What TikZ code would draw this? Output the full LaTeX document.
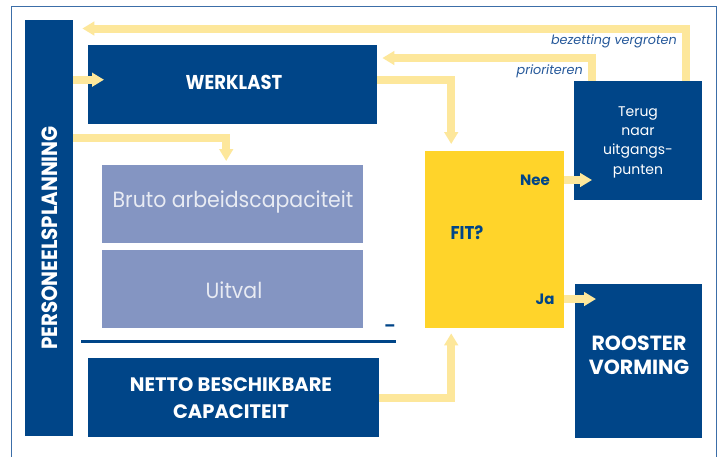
\documentclass[tikz,border=0pt]{standalone}
\usepackage{fontspec}
\setmainfont{Poppins}
\newfontfamily\cbf[FakeStretch=0.9]{Poppins}
\newfontfamily\cnf[FakeStretch=0.93]{Poppins}
\usetikzlibrary{arrows.meta}
\definecolor{dblue}{HTML}{004588}
\definecolor{peri}{HTML}{8495C2}
\definecolor{peritext}{HTML}{E8EBF3}
\definecolor{fityel}{HTML}{FFD42A}
\definecolor{arrowc}{HTML}{FDE79B}
\definecolor{framec}{HTML}{3C6EA8}
\definecolor{labc}{HTML}{25589A}
\begin{document}
\begin{tikzpicture}[x=1pt,y=-1pt,
  box/.style={draw=none,fill=dblue,text=white,inner sep=0pt,anchor=north west,align=center},
  pbox/.style={draw=none,fill=peri,text=peritext,inner sep=0pt,anchor=north west,align=center},
  flow/.style={draw=arrowc,line width=8pt,line join=miter,-{Triangle[width=13.5pt,length=12pt]}},
  txt/.style={inner sep=0pt,align=center},
  lab/.style={text=labc,font=\fontsize{12.8}{14}\selectfont\itshape,inner sep=0pt}]
\useasboundingbox (0,0) rectangle (722,456);
\fill[white] (0,0) rectangle (722,456);
\draw[framec,line width=1pt] (11,470) -- (11,6) -- (716,6) -- (716,470);
% boxes
\node[box,minimum width=48pt,minimum height=416pt] (bar) at (25,20) {};
\node[txt,text=white,rotate=90,font=\cbf\bfseries\fontsize{22}{24}\selectfont] (bartext) at (49.5,238) {PERSONEELSPLANNING};
\node[box,minimum width=289pt,minimum height=79pt] (werk) at (88,45) {};
\node[txt,text=white,font=\cbf\bfseries\fontsize{20}{22}\selectfont] (werktext) at (234,82) {WERKLAST};
\node[pbox,minimum width=261pt,minimum height=78pt] (bruto) at (102,165) {};
\node[txt,text=peritext,font=\cnf\fontsize{22}{24}\selectfont] (brutotext) at (233,202) {Bruto arbeidscapaciteit};
\node[pbox,minimum width=261pt,minimum height=78pt] (uitval) at (102,250) {};
\node[txt,text=peritext,font=\cnf\fontsize{22}{24}\selectfont] (uitvaltext) at (234,290) {Uitval};
\node[txt,text=dblue,font=\bfseries\fontsize{16}{16}\selectfont] (minus) at (390,328) {--};
\draw[dblue,line width=2.2pt] (81,341.5) -- (396,341.5);
\node[box,minimum width=291pt,minimum height=79pt] (netto) at (88,358) {};
\node[txt,text=white,font=\bfseries\fontsize{19.5}{27}\selectfont] (nettotext) at (231,398) {NETTO BESCHIKBARE\\CAPACITEIT};
\node[box,fill=fityel,minimum width=139pt,minimum height=177pt] (fit) at (425,151) {};
\node[txt,text=dblue,font=\cbf\bfseries\fontsize{18.5}{20}\selectfont] (fitq) at (467,233) {FIT?};
\node[txt,text=dblue,font=\fontsize{15}{16}\selectfont\bfseries] (nee) at (535,180) {Nee};
\node[txt,text=dblue,font=\fontsize{15}{16}\selectfont\bfseries] (ja) at (545,299) {Ja};
\node[box,minimum width=128pt,minimum height=119pt,font=\fontsize{14}{19.3}\selectfont] (terug) at (574,81) {};
\node[txt,text=white,font=\fontsize{14}{19.3}\selectfont] (terugtext) at (638,142) {Terug\\naar\\uitgangs-\\punten};
\node[box,minimum width=127pt,minimum height=154pt] (rooster) at (575,284) {};
\node[txt,text=white,font=\bfseries\fontsize{20.5}{24}\selectfont] (roostertext) at (639,355) {ROOSTER\\VORMING};
% labels
\node[lab,anchor=east] (bez) at (677,41) {bezetting vergroten};
\node[lab,anchor=east] (prio) at (583,71) {prioriteren};
% connectors
\path ([yshift=5pt]werk.west) coordinate (w1);
\draw[flow,shorten >=-16pt] (bar.east |- w1) -- (w1);
\path ([yshift=27pt]bruto.north) coordinate (b1);
\draw[flow,shorten >=4pt] (bar.east |- b1) -| ([xshift=-6.5pt]bruto.north);
\draw[flow,shorten >=7pt] ([yshift=4.5pt]werk.east) -| ([xshift=-43.5pt]fit.north);
\draw[flow,shorten >=5pt] (netto.east) -| ([xshift=-43.5pt]fit.south);
\draw[flow,shorten >=-18pt] (nee.east -| fit.east) -- (nee.east -| terug.west);
\draw[flow,shorten >=-21pt] (ja.east -| fit.east) -- (ja.east -| rooster.west);
\draw[flow,shorten >=9pt] ([xshift=48pt]terug.north) |- ([yshift=-8.5pt]bar.north east);
\draw[flow,shorten >=5pt] ([xshift=-46pt]terug.north) |- ([yshift=-13pt]werk.north east);
\end{tikzpicture}
\end{document}
